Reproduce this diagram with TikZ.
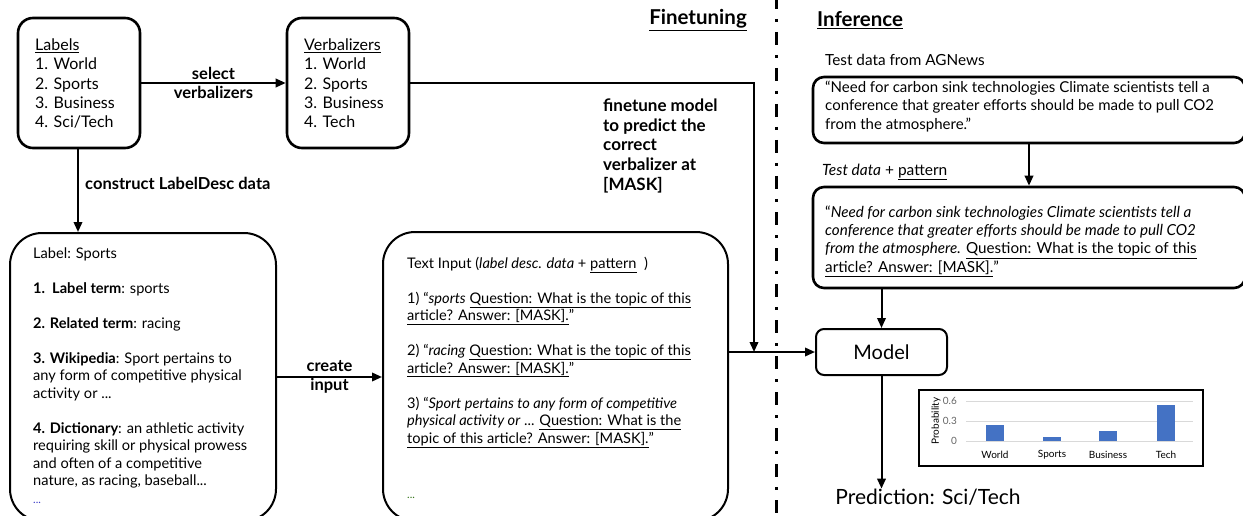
\documentclass[tikz,border=0pt]{standalone}
\usepackage{fontspec}
\setmainfont{Lato}
\usetikzlibrary{arrows.meta}
\definecolor{barblue}{RGB}{68,114,196}
\definecolor{gridgray}{RGB}{217,217,217}
\definecolor{tickgray}{RGB}{100,100,100}
\definecolor{dotblue}{RGB}{60,60,200}
\definecolor{dotgreen}{RGB}{56,118,29}
\begin{document}
\begin{tikzpicture}[x=1pt,y=-1pt,
  topbox/.style={draw, line width=2.6, rounded corners=15, inner sep=0},
  bigbox/.style={draw, line width=2, rounded corners=32, inner sep=0},
  infbox/.style={draw, line width=2.6, rounded corners=11, inner sep=0},
  arr/.style={-{Triangle[length=10pt,width=8.5pt]}, line width=2},
  txt/.style={inner sep=0, align=left},
  boldlbl/.style={inner sep=0, font=\bfseries\fontsize{16.5}{19}\selectfont},
  tick/.style={inner sep=0, font=\fontsize{10}{11}\selectfont, text=tickgray},
  cat/.style={inner sep=0, font=\fontsize{10}{11}\selectfont},
  bar/.style={fill=barblue, draw=none}
]
\useasboundingbox (0,0) rectangle (1243,516);

% separator
\draw[line width=3, dash pattern=on 13pt off 10pt on 3pt off 10pt] (776,-4) -- (776,520);

% headings
\node[inner sep=0, anchor=east, font=\bfseries\fontsize{20.5}{24}\selectfont] (hft) at (747,20) {\underline{Finetuning}};
\node[inner sep=0, anchor=west, font=\bfseries\fontsize{20.5}{24}\selectfont] (hinf) at (817,20) {\underline{Inference}};

% top boxes
\node[topbox, minimum width=122, minimum height=130] (labels) at (79,83) {};
\node[txt, anchor=north west, font=\fontsize{16}{19.3}\selectfont] (labelstxt) at (35,38.5)
  {\underline{Labels}\\1. World\\2. Sports\\3. Business\\4. Sci/Tech};
\node[topbox, minimum width=122, minimum height=130] (verb) at (348,83) {};
\node[txt, anchor=north west, font=\fontsize{16}{19.3}\selectfont] (verbtxt) at (304,38.5)
  {\underline{Verbalizers}\\1. World\\2. Sports\\3. Business\\4. Tech};

% bottom-left boxes
\node[bigbox, minimum width=266, minimum height=288] (ls) at (143,377) {};
\node[txt, anchor=north west, font=\fontsize{14.6}{17.5}\selectfont] (lstxt) at (33,247.5)
  {Label: Sports\\[17.5pt]
   \textbf{1.\ \ Label term}: sports\\[17.5pt]
   \textbf{2. Related term}: racing\\[17.5pt]
   \textbf{3. Wikipedia}: Sport pertains to\\
   any form of competitive physical\\
   activity or ...\\[17.5pt]
   \textbf{4. Dictionary}: an athletic activity\\
   requiring skill or physical prowess\\
   and often of a competitive\\
   nature, as racing, baseball...\\
   {\color{dotblue}\fontsize{11}{17.5}\selectfont ...}};

\node[bigbox, minimum width=345, minimum height=289] (ti) at (555.5,376.5) {};
\node[txt, anchor=north west, font=\fontsize{14.6}{17.5}\selectfont] (titxt) at (407,256.5)
  {Text Input (\textit{label desc. data} + \underline{pattern}\ \ )\\[17.5pt]
   1) “\textit{sports} \underline{Question: What is the topic of this}\\
   \underline{article? Answer: [MASK].}”\\[17.5pt]
   2) “\textit{racing} \underline{Question: What is the topic of this}\\
   \underline{article? Answer: [MASK].}”\\[17.5pt]
   3) “\textit{Sport pertains to any form of competitive}\\
   \textit{physical activity or} ... \underline{Question: What is the}\\
   \underline{topic of this article? Answer: [MASK].}”\\[17.5pt]
   \\[3pt]
   {\color{dotgreen}\fontsize{11}{17.5}\selectfont ...}};

% finetune label
\node[txt, anchor=north west, font=\bfseries\fontsize{17}{19.7}\selectfont] (ftlbl) at (603,98.5)
  {finetune model\\to predict the\\correct\\verbalizer at\\{}[MASK]};

% inference boxes
\node[inner sep=0, anchor=west, font=\fontsize{15.3}{18}\selectfont] (agn) at (825,60) {Test data from AGNews};
\node[infbox, minimum width=432, minimum height=66] (test) at (1029,110) {};
\node[txt, anchor=north west, font=\fontsize{15}{18.6}\selectfont] (testtxt) at (825,80.5)
  {“Need for carbon sink technologies Climate scientists tell a\\
   conference that greater efforts should be made to pull CO2\\
   from the atmosphere.”};
\node[inner sep=0, anchor=west, font=\fontsize{15.5}{18}\selectfont] (tdp) at (822,172) {\textit{Test data} + \underline{pattern}};
\node[infbox, minimum width=432, minimum height=101] (tp) at (1029,237.5) {};
\node[txt, anchor=north west, font=\fontsize{15.2}{18.3}\selectfont] (tptxt) at (825,205.5)
  {“\textit{Need for carbon sink technologies Climate scientists tell a}\\
   \textit{conference that greater efforts should be made to pull CO2}\\
   \textit{from the atmosphere.} \underline{Question: What is the topic of this}\\
   \underline{article? Answer: [MASK].}”};

% model + prediction
\node[draw, line width=2, rounded corners=8, minimum width=131, minimum height=46, inner sep=0,
  font=\fontsize{20}{24}\selectfont] (model) at (881.5,352) {Model};
\node[inner sep=0, font=\fontsize{21}{25}\selectfont] (pred) at (928,497) {Prediction: Sci/Tech};

% chart
\node[draw, line width=2, minimum width=284, minimum height=76, inner sep=0] (chart) at (1061,428) {};
\foreach \yy in {401,421,441} \draw[gridgray, line width=0.8] (966,\yy) -- (1193,\yy);
\node[tick, anchor=east] (t6) at (957,401) {0.6};
\node[tick, anchor=east] (t3) at (957,421) {0.3};
\node[tick, anchor=east] (t0) at (957,441) {0};
\node[inner sep=0, rotate=90, font=\fontsize{10}{11}\selectfont] (prob) at (936,421) {Probability};
\fill[bar] (986,441) rectangle (1004,425);
\fill[bar] (1043,441) rectangle (1061,437);
\fill[bar] (1099,441) rectangle (1117,431);
\fill[bar] (1157,441) rectangle (1175,405);
\node[cat] (cw) at (995,455) {World};
\node[cat] (cs) at (1052,455) {Sports};
\node[cat] (cb) at (1108,455) {Business};
\node[cat] (ct) at (1166,455) {Tech};

% connectors
\draw[arr] (labels.east) -- (verb.west) node[midway, boldlbl, align=center] (selv) {select\\verbalizers};
\draw[arr] (labels.south -| 78,0) -- (78,0 |- ls.north);
\node[boldlbl, anchor=west, font=\bfseries\fontsize{16.5}{19}\selectfont] (cld) at (85,183) {construct LabelDesc data};
\coordinate (junc) at (754,352);
\draw[arr] (verb.east) -| (junc);
\draw[arr] (ls.east) -- (ls.east -| ti.west) node[midway, boldlbl, align=center] (ci) {create\\input};
\draw[arr] (ti.east |- model.west) -- (model.west);
\draw[arr] (test.south) -- (tp.north);
\draw[arr] (model.north |- tp.south) -- (model.north);
\draw[arr] (model.south) -- (model.south |- pred.north);
\end{tikzpicture}
\end{document}
